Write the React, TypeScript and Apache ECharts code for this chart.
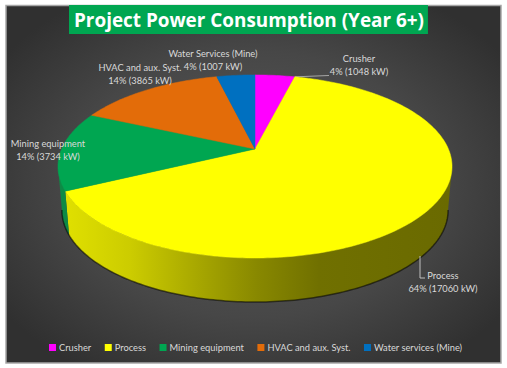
import React, { useEffect, useRef } from "react";
import * as echarts from "echarts";

const categories = ["Crusher", "Process", "Mining equipment", "HVAC and aux. Syst.", "Water services (Mine)"];
const labelNames = ["Crusher", "Process", "Mining equipment", "HVAC and aux. Syst.", "Water Services (Mine)"];
const powerKw = [1048, 17060, 3734, 3865, 1007];
const percents = [4, 64, 14, 14, 4];
const colors = ["#ff00ff", "#ffff00", "#00a651", "#e36c09", "#0070c0"];
const titleText = "Project Power Consumption (Year 6+)";

// Layout of the drawing (perspective disc)
const CX = 255, CY = 149, A = 193.4, B = 88.2, K = 0.191, DEPTH = 44, BOTTOM_SCALE = 0.98;
const VISIBLE_FROM = 100.7, VISIBLE_TO = 259.3;
const LABEL_POS = [
  [359, 65],
  [443, 281.5],
  [48, 149.5],
  [140, 73.5],
  [213, 60],
];
const total = powerKw.reduce((a, b) => a + b, 0);

function rim(deg: number): [number, number] {
  const r = (deg * Math.PI) / 180;
  const X = Math.sin(r), Y = Math.cos(r);
  const w = 1 + K * Y;
  return [CX + (X * A) / w, CY - (Y * B) / w];
}
function lower(p: [number, number]): [number, number] {
  return [CX + (p[0] - CX) * BOTTOM_SCALE, p[1] + DEPTH];
}
function arc(a0: number, a1: number): [number, number][] {
  const n = Math.max(2, Math.ceil((a1 - a0) / 1));
  const pts: [number, number][] = [];
  for (let i = 0; i <= n; i++) pts.push(rim(a0 + ((a1 - a0) * i) / n));
  return pts;
}
function shade(i: number) {
  const stops =
    i === 1
      ? [
          [0, "#e0e000"],
          [0.17, "#cccc00"],
          [0.36, "#a4a400"],
          [0.5, "#888800"],
          [0.66, "#707000"],
          [1, "#6a6a00"],
        ]
      : [
          [0, "#0d8a45"],
          [1, "#0d8a45"],
        ];
  return new echarts.graphic.LinearGradient(
    65, 0, 450, 0,
    stops.map(([offset, color]) => ({ offset: offset as number, color: color as string })),
    true
  );
}

function startAngle(i: number) {
  let s = 0;
  for (let k = 0; k < i; k++) s += powerKw[k];
  return (s / total) * 360;
}

function makeRender(i: number) {
  return (_params: any, api: any) => {
    const a0 = startAngle(i);
    const a1 = a0 + (api.value(0) / total) * 360;
    const children: any[] = [];
    const s0 = Math.max(a0, VISIBLE_FROM), s1 = Math.min(a1, VISIBLE_TO);
    if (s1 > s0) {
      const top = arc(s0, s1);
      const bot = top.map(lower);
      children.push({
        type: "polygon",
        shape: { points: [...top, ...bot.slice().reverse()] },
        style: { fill: shade(i), stroke: "none" },
      });
      children.push({
        type: "polyline",
        shape: { points: bot },
        style: { fill: "none", stroke: "rgba(0,0,0,0.55)", lineWidth: 1.5 },
      });
    }
    children.push({
      type: "polygon",
      shape: { points: [[CX, CY], ...arc(a0, a1)] },
      style: { fill: colors[i], stroke: colors[i], lineWidth: 0.5 },
    });
    if (i === 0) {
      children.push({
        type: "polyline",
        shape: { points: [rim(a1), [329, 75.5]] },
        style: { fill: "none", stroke: "#a6a6a6", lineWidth: 1 },
      });
    }
    if (i === 1) {
      children.push({
        type: "polyline",
        shape: { points: [[420, 256], [420, 278], [425, 278]] },
        style: { fill: "none", stroke: "#bfbfbf", lineWidth: 1 },
      });
    }
    children.push({
      type: "text",
      style: {
        text: `${labelNames[i]}\n${percents[i]}% (${api.value(0)} kW)`,
        x: LABEL_POS[i][0],
        y: LABEL_POS[i][1],
        align: "center",
        verticalAlign: "middle",
        fill: "#d9d9d9",
        font: '9.3px Lato',
        lineHeight: 13,
      },
    });
    return { type: "group", children };
  };
}

export default function App() {
  const ref = useRef<HTMLDivElement>(null);
  useEffect(() => {
    document.body.style.margin = "0";
    const chart = echarts.init(ref.current!, null, { renderer: "svg" });
    chart.setOption({
      animation: false,
      backgroundColor: "#ffffff",
      title: {
        text: titleText,
        left: 69,
        top: 5,
        backgroundColor: "#00a651",
        padding: [5, 4, 5, 5],
        textStyle: { color: "#ffffff", fontFamily: "Open Sans", fontWeight: "bold", fontSize: 18.9, lineHeight: 19 },
      },
      legend: {
        data: categories,
        left: 44,
        top: 338,
        width: 470,
        itemWidth: 7,
        itemHeight: 7,
        itemGap: 13.5,
        icon: "rect",
        textStyle: { color: "#d9d9d9", fontFamily: "Lato", fontSize: 9.3, padding: [0, 0, 0, -2] },
      },
      graphic: [
        {
          type: "rect",
          z: -10,
          shape: { x: 6, y: 5.5, width: 495, height: 357.5 },
          style: {
            fill: new echarts.graphic.RadialGradient(0.5, 0.5, 0.62, [
              { offset: 0, color: "#5a5a5a" },
              { offset: 0.6, color: "#474747" },
              { offset: 1, color: "#303030" },
            ]),
            stroke: "#a6a6a6",
            lineWidth: 1.5,
          },
        },
      ],
      series: categories.map((name, i) => ({
        type: "custom",
        name,
        coordinateSystem: "none",
        itemStyle: { color: colors[i] },
        renderItem: makeRender(i),
        data: [[powerKw[i]]],
        silent: true,
      })),
    });
    return () => chart.dispose();
  }, []);
  return <div ref={ref} style={{ width: 507, height: 368 }} />;
}
